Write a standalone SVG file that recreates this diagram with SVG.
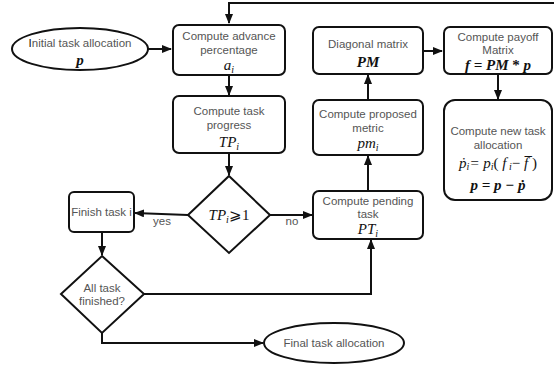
<svg xmlns="http://www.w3.org/2000/svg" width="554" height="366" viewBox="0 0 554 366">
<style>
.n{fill:#fff;stroke:#111;stroke-width:2}
.t{font-family:"Liberation Sans",Arial,sans-serif;font-size:11.5px;fill:#555;text-anchor:middle}
.m{font-family:"Liberation Serif","Times New Roman",serif;font-size:15px;font-style:italic;fill:#111;text-anchor:middle}
.b{font-weight:bold}
.s{font-size:10px}
.u{font-style:normal}
.c{fill:none;stroke:#111;stroke-width:2}
</style>
<defs>
<marker id="a" markerWidth="10" markerHeight="8" refX="9" refY="4" orient="auto" markerUnits="userSpaceOnUse">
<path d="M0,0 L10,4 L0,8 z" fill="#111"/>
</marker>
</defs>
<g id="connectors">
<path class="c" d="M554,3 H229 V23" marker-end="url(#a)"/>
<path class="c" d="M148,49 H171" marker-end="url(#a)"/>
<path class="c" d="M229,75 V95" marker-end="url(#a)"/>
<path class="c" d="M229,153 V175" marker-end="url(#a)"/>
<path class="c" d="M188,215 L135,213" marker-end="url(#a)"/>
<path class="c" d="M270,215 H312" marker-end="url(#a)"/>
<path class="c" d="M102,232 V255" marker-end="url(#a)"/>
<path class="c" d="M144,294 H371 V240" marker-end="url(#a)"/>
<path class="c" d="M102,333 V343 H263" marker-end="url(#a)"/>
<path class="c" d="M368,191 V156" marker-end="url(#a)"/>
<path class="c" d="M368,100 V75" marker-end="url(#a)"/>
<path class="c" d="M423,51 H442" marker-end="url(#a)"/>
<path class="c" d="M498,74 V99" marker-end="url(#a)"/>
<text class="t" x="162" y="225">yes</text>
<text class="t" x="292" y="225">no</text>
</g>
<g id="init">
<ellipse class="n" cx="80" cy="49" rx="68" ry="21"/>
<text class="t" x="80" y="47"><tspan fill="#111">I</tspan>nitial task allocation</text>
<text class="m b" x="80" y="65">p</text>
</g>
<g id="advance">
<rect class="n" x="173" y="25" width="112" height="50" rx="6"/>
<text class="t" x="229" y="40">Compute advance</text>
<text class="t" x="229" y="54">percentage</text>
<text class="m" x="229" y="70">a<tspan class="s" dy="3">i</tspan></text>
</g>
<g id="progress">
<rect class="n" x="173" y="96" width="112" height="57" rx="6"/>
<text class="t" x="229" y="115">Compute task</text>
<text class="t" x="229" y="129">progress</text>
<text class="m" x="229" y="147">TP<tspan class="s" dy="3">i</tspan></text>
</g>
<g id="check">
<polygon class="n" points="229,176 270,215 229,253 188,215"/>
<text class="m" x="229" y="220">TP<tspan class="s" dy="3">i</tspan><tspan class="u" dy="-3">⩾1</tspan></text>
</g>
<g id="finish">
<rect class="n" x="69" y="192" width="65" height="40" rx="5"/>
<text class="t" x="101.5" y="216">Finish task i</text>
</g>
<g id="all">
<polygon class="n" points="102,256 144,294 102,333 61,294"/>
<text class="t" x="102" y="292">All task</text>
<text class="t" x="102" y="305">finished?</text>
</g>
<g id="final">
<ellipse class="n" cx="334" cy="343" rx="70" ry="20"/>
<text class="t" x="334" y="347">Final task allocation</text>
</g>
<g id="pending">
<rect class="n" x="313" y="191" width="110" height="48" rx="6"/>
<text class="t" x="368" y="205">Compute pending</text>
<text class="t" x="368" y="218">task</text>
<text class="m" x="368" y="234">PT<tspan class="s" dy="3">i</tspan></text>
</g>
<g id="proposed">
<rect class="n" x="313" y="100" width="110" height="55" rx="6"/>
<text class="t" x="368" y="118">Compute proposed</text>
<text class="t" x="368" y="132">metric</text>
<text class="m" x="368" y="148">pm<tspan class="s" dy="3">i</tspan></text>
</g>
<g id="diag">
<rect class="n" x="313" y="27" width="110" height="47" rx="6"/>
<text class="t" x="368" y="48">Diagonal matrix</text>
<text class="m b" x="368" y="67">PM</text>
</g>
<g id="payoff">
<rect class="n" x="444" y="27" width="108" height="47" rx="6"/>
<text class="t" x="498" y="41">Compute payoff</text>
<text class="t" x="498" y="54">Matrix</text>
<text class="m b" x="498" y="70">f = PM <tspan class="u">*</tspan> p</text>
</g>
<g id="newalloc">
<rect class="n" x="444" y="100" width="108" height="100" rx="11"/>
<text class="t" x="498" y="135">Compute new task</text>
<text class="t" x="498" y="149">allocation</text>
<text class="m" x="498" y="168">ṗ<tspan class="s" dy="2">i</tspan><tspan dy="-2">= p</tspan><tspan class="s" dy="2">i</tspan><tspan class="u" dy="-2">( </tspan>f<tspan class="s" dy="2"> i</tspan><tspan class="u" dy="-2">− </tspan>f̅<tspan class="u"> )</tspan></text>
<text class="m b" x="498" y="190">p = p − ṗ</text>
</g>
</svg>
